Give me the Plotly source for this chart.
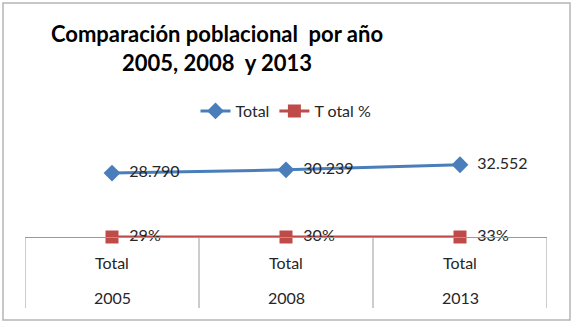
import plotly.graph_objects as go

years = ["2005", "2008", "2013"]
group = ["Total", "Total", "Total"]
total = [28790, 30239, 32552]
total_pct = [0.29, 0.30, 0.33]

W, H = 575, 335
ml, mr, mt, mb = 25, 28, 130, 98
pw = W - ml - mr
ph = H - mt - mb
axis_y = H - mb  # pixel row of the category axis


def py(pix):
    """pixel row -> paper y"""
    return (axis_y - pix) / ph


def px(pix):
    """pixel column -> paper x"""
    return (pix - ml) / pw


font = "Lato"
txtcol = "#262626"
gray = "#9a9a9a"
pad = "\u00a0\u00a0"

fig = go.Figure()
fig.add_trace(go.Scatter(
    x=years, y=total, name="Total", mode="lines+markers+text",
    line=dict(color="#4a7ebb", width=3),
    marker=dict(symbol="diamond", size=13, color="#4a7ebb"),
    text=[pad + f"{v:,}".replace(",", ".") for v in total],
    textposition="middle right", cliponaxis=False,
    textfont=dict(family=font, size=16, color=txtcol),
))
fig.add_trace(go.Scatter(
    x=years, y=total_pct, name="T otal %", mode="lines+markers+text",
    line=dict(color="#be4b48", width=3),
    marker=dict(symbol="square", size=13, color="#be4b48"),
    text=[pad + f"{round(v * 100)}%" for v in total_pct],
    textposition="middle right", cliponaxis=False,
    textfont=dict(family=font, size=16, color=txtcol),
))

annotations = []
shapes = []
for i, (yr, g) in enumerate(zip(years, group)):
    annotations.append(dict(x=i, xref="x", y=py(262), yref="paper", text=g,
                            showarrow=False, yanchor="middle",
                            font=dict(family=font, size=16, color=txtcol)))
    annotations.append(dict(x=i, xref="x", y=py(297), yref="paper", text=yr,
                            showarrow=False, yanchor="middle",
                            font=dict(family=font, size=16, color=txtcol)))
for k in range(len(years) + 1):
    shapes.append(dict(type="line", xref="x", yref="paper",
                       x0=k - 0.5, x1=k - 0.5, y0=0, y1=py(308),
                       line=dict(color=gray, width=1)))
shapes.append(dict(type="rect", xref="paper", yref="paper",
                   x0=px(3), x1=px(570), y0=py(320), y1=py(3),
                   line=dict(color="#b5b5b5", width=1.5), layer="below"))

fig.update_layout(
    width=W, height=H,
    margin=dict(l=ml, r=mr, t=mt, b=mb),
    paper_bgcolor="white", plot_bgcolor="white",
    font=dict(family=font, size=15, color=txtcol),
    title=dict(text="<b>Comparación poblacional  por año<br>2005, 2008  y 2013</b>",
               x=217 / W, xanchor="center", y=1 - 42 / H, yanchor="middle",
               font=dict(family=font, size=22, color="black")),
    legend=dict(orientation="h", x=0.5, xanchor="center", y=py(111), yanchor="middle",
                font=dict(family=font, size=16, color=txtcol)),
    showlegend=True,
    xaxis=dict(type="category", range=[-0.5, len(years) - 0.5],
               showline=True, linecolor=gray, linewidth=1,
               ticks="", showticklabels=False, showgrid=False, zeroline=False),
    yaxis=dict(range=[0, 48200], visible=False, showgrid=False, zeroline=False),
    annotations=annotations,
    shapes=shapes,
)
fig.write_html("out.html")
